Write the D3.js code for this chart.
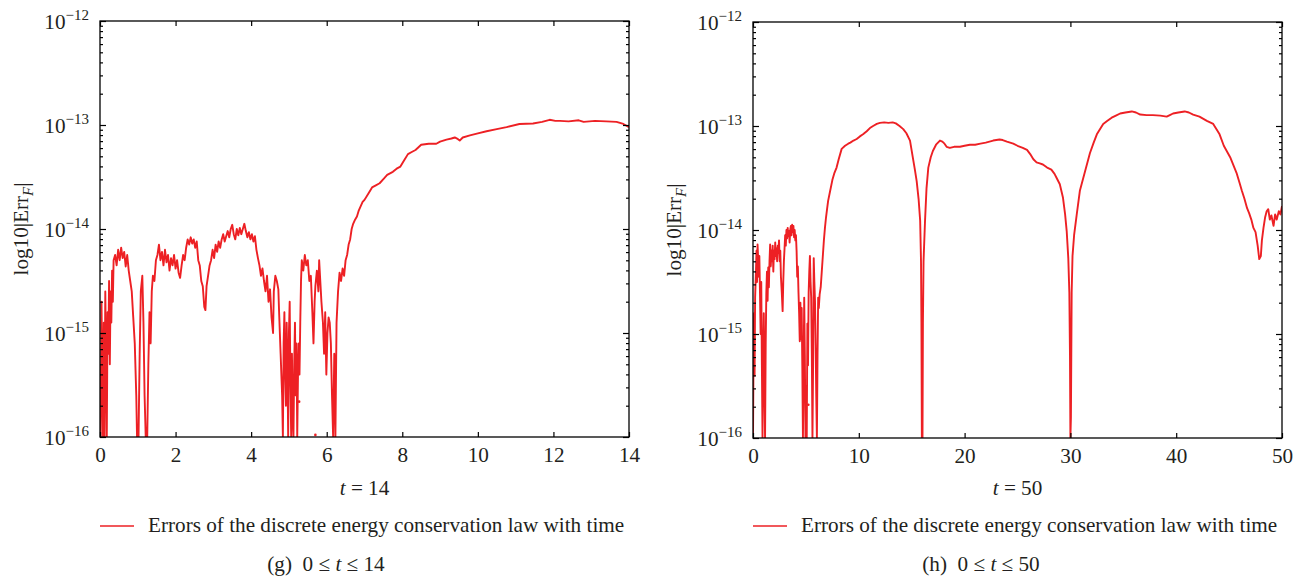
<!DOCTYPE html>
<html><head><meta charset="utf-8">
<script src="https://cdn.jsdelivr.net/npm/d3@7"></script>
<style>
body{margin:0;background:#fff}
svg{display:block}
text{font-family:"Liberation Serif","Times New Roman",serif;fill:#231f20}
</style>
</head><body>
<svg id="c" width="1303" height="580"></svg>
<script>
// ---------- data ----------
const gTicksX = [0, 2, 4, 6, 8, 10, 12, 14];
const hTicksX = [0, 10, 20, 30, 40, 50];
const yTickExps = [-12, -13, -14, -15, -16];
const legendLabel = "Errors of the discrete energy conservation law with time";
const gAxisTitle = "14";
const hAxisTitle = "50";
const gCaption = ["(g)", "14"];
const hCaption = ["(h)", "50"];

// [t, log10|Err_F|]
const gSeries = [
[0.00,-15.3],[0.02,-16.0],[0.04,-14.7],[0.06,-15.4],[0.08,-16.0],[0.10,-14.9],[0.12,-16.0],[0.14,-14.6],
[0.16,-15.2],[0.18,-16.0],[0.20,-14.8],[0.22,-15.2],[0.24,-14.5],[0.26,-15.3],[0.28,-14.6],[0.30,-14.9],
[0.32,-14.4],[0.34,-14.7],[0.36,-14.3],[0.40,-14.25],[0.44,-14.35],[0.48,-14.2],[0.52,-14.3],[0.56,-14.18],
[0.60,-14.28],[0.64,-14.22],[0.68,-14.36],[0.72,-14.25],[0.76,-14.4],[0.80,-14.5],[0.84,-14.6],[0.88,-14.85],
[0.92,-15.1],[0.96,-15.6],[0.98,-16.0],[1.02,-16.0],[1.05,-15.2],[1.08,-14.6],[1.12,-14.45],[1.15,-14.9],
[1.18,-15.6],[1.21,-16.0],[1.25,-16.0],[1.28,-15.3],[1.31,-14.8],[1.34,-15.1],[1.37,-14.6],[1.40,-14.45],
[1.44,-14.5],[1.48,-14.3],[1.52,-14.25],[1.56,-14.15],[1.60,-14.3],[1.64,-14.22],[1.68,-14.35],[1.72,-14.2],
[1.76,-14.32],[1.80,-14.25],[1.84,-14.4],[1.88,-14.28],[1.92,-14.35],[1.96,-14.25],[2.00,-14.38],[2.04,-14.3],
[2.08,-14.42],[2.12,-14.47],[2.16,-14.35],[2.20,-14.25],[2.24,-14.3],[2.28,-14.18],[2.32,-14.1],[2.36,-14.15],
[2.40,-14.08],[2.44,-14.14],[2.48,-14.1],[2.52,-14.18],[2.56,-14.12],[2.60,-14.3],[2.64,-14.35],[2.68,-14.5],
[2.72,-14.55],[2.76,-14.75],[2.79,-14.78],[2.82,-14.55],[2.86,-14.45],[2.90,-14.35],[2.94,-14.3],[2.98,-14.2],
[3.02,-14.28],[3.06,-14.15],[3.10,-14.22],[3.14,-14.12],[3.18,-14.18],[3.22,-14.1],[3.26,-14.05],[3.30,-14.12],
[3.34,-14.07],[3.38,-14.02],[3.42,-14.08],[3.46,-14.0],[3.50,-13.96],[3.54,-14.05],[3.58,-14.1],[3.62,-14.0],
[3.66,-14.06],[3.70,-13.99],[3.74,-14.05],[3.78,-14.0],[3.82,-13.95],[3.86,-14.02],[3.90,-14.08],[3.94,-14.03],
[3.98,-14.1],[4.02,-14.05],[4.06,-14.12],[4.10,-14.07],[4.14,-14.2],[4.18,-14.28],[4.22,-14.35],[4.26,-14.45],
[4.30,-14.38],[4.34,-14.5],[4.38,-14.6],[4.42,-14.45],[4.46,-14.7],[4.50,-14.58],[4.54,-14.85],[4.58,-15.0],
[4.60,-14.6],[4.64,-14.45],[4.68,-14.5],[4.72,-14.58],[4.74,-14.8],[4.78,-15.2],[4.82,-15.6],[4.84,-16.0],
[4.86,-15.1],[4.88,-14.8],[4.90,-15.4],[4.92,-15.7],[4.94,-14.9],[4.96,-15.3],[4.98,-16.0],[5.00,-15.0],
[5.02,-14.7],[5.04,-15.5],[5.06,-16.0],[5.08,-15.2],[5.10,-15.8],[5.12,-16.0],[5.14,-15.3],[5.16,-14.9],
[5.18,-15.6],[5.20,-15.1],[5.22,-16.0],[5.24,-15.4],[5.26,-15.1],[5.28,-15.4],[5.30,-14.9],[5.32,-14.5],
[5.34,-14.3],[5.38,-14.4],[5.42,-14.25],[5.46,-14.35],[5.50,-14.3],[5.54,-14.5],[5.58,-14.45],[5.62,-14.8],
[5.65,-15.1],[5.68,-14.7],[5.70,-14.55],[5.74,-14.4],[5.78,-14.6],[5.80,-14.3],[5.83,-14.5],[5.86,-14.7],
[5.90,-14.9],[5.93,-15.2],[5.96,-14.8],[5.99,-15.4],[6.02,-15.0],[6.05,-14.85],[6.08,-14.9],[6.11,-15.1],
[6.14,-15.6],[6.17,-16.0],[6.20,-15.2],[6.23,-16.0],[6.26,-14.9],[6.30,-14.6],[6.34,-14.42],[6.38,-14.5],
[6.42,-14.38],[6.46,-14.45],[6.50,-14.3],[6.54,-14.25],[6.58,-14.15],[6.62,-14.1],[6.66,-14.0],[6.70,-13.95],
[6.75,-13.91],[6.80,-13.88],[6.85,-13.82],[6.90,-13.78],[6.95,-13.74],[7.00,-13.72],[7.10,-13.66],[7.20,-13.6],
[7.30,-13.58],[7.40,-13.56],[7.50,-13.52],[7.60,-13.48],[7.75,-13.45],[7.85,-13.42],[7.95,-13.40],[8.05,-13.34],
[8.15,-13.28],[8.25,-13.26],[8.35,-13.24],[8.50,-13.19],[8.70,-13.18],[8.90,-13.18],[9.00,-13.16],[9.17,-13.14],
[9.30,-13.13],[9.39,-13.12],[9.45,-13.13],[9.52,-13.15],[9.60,-13.12],[9.79,-13.10],[10.0,-13.08],[10.23,-13.06],
[10.5,-13.04],[10.76,-13.02],[11.1,-12.99],[11.46,-12.985],[11.7,-12.97],[11.9,-12.95],[12.05,-12.96],[12.17,-12.96],
[12.4,-12.965],[12.67,-12.955],[12.8,-12.97],[12.95,-12.965],[13.1,-12.96],[13.4,-12.965],[13.67,-12.97],[13.85,-12.99],
[14.0,-13.02]
];
const gDots = [[5.27,-15.66],[5.70,-15.98]];

const hSeries = [
[0.00,-16.0],[0.05,-15.2],[0.10,-14.8],[0.15,-15.4],[0.20,-14.65],[0.28,-14.4],[0.33,-14.2],[0.38,-14.5],
[0.43,-14.14],[0.50,-14.3],[0.55,-14.45],[0.60,-14.25],[0.66,-14.6],[0.72,-15.0],[0.78,-14.5],[0.84,-15.3],
[0.90,-16.0],[0.96,-15.2],[1.02,-14.8],[1.08,-15.5],[1.14,-16.0],[1.20,-15.1],[1.26,-14.6],[1.32,-14.4],
[1.38,-14.68],[1.44,-14.36],[1.50,-14.55],[1.56,-14.3],[1.62,-14.14],[1.68,-14.35],[1.74,-14.2],[1.80,-14.3],
[1.86,-14.15],[1.92,-14.4],[1.98,-14.2],[2.04,-14.28],[2.10,-14.12],[2.16,-14.25],[2.22,-14.18],[2.28,-14.3],
[2.34,-14.15],[2.40,-14.22],[2.46,-14.1],[2.52,-14.3],[2.58,-14.2],[2.64,-14.45],[2.72,-14.6],[2.80,-14.78],
[2.86,-14.5],[2.92,-14.3],[2.98,-14.18],[3.04,-14.05],[3.10,-14.15],[3.16,-14.0],[3.22,-14.08],[3.28,-13.98],
[3.34,-14.06],[3.40,-14.01],[3.46,-14.12],[3.52,-14.0],[3.58,-13.96],[3.64,-14.05],[3.70,-13.95],[3.76,-14.02],
[3.82,-13.96],[3.88,-14.07],[3.94,-14.0],[4.00,-14.1],[4.06,-14.05],[4.12,-14.2],[4.18,-14.45],[4.24,-14.35],
[4.30,-14.6],[4.36,-14.8],[4.42,-15.07],[4.48,-14.7],[4.54,-15.05],[4.60,-14.75],[4.66,-15.3],[4.72,-16.0],
[4.78,-15.4],[4.84,-14.65],[4.90,-15.2],[4.96,-16.0],[5.02,-15.5],[5.08,-16.0],[5.14,-14.9],[5.20,-15.3],
[5.26,-14.6],[5.32,-14.4],[5.38,-14.25],[5.44,-14.5],[5.50,-14.65],[5.56,-15.2],[5.62,-16.0],[5.68,-15.3],
[5.74,-14.27],[5.80,-14.5],[5.86,-14.68],[5.92,-15.1],[5.98,-15.6],[6.04,-16.0],[6.10,-15.2],[6.16,-14.65],
[6.22,-14.75],[6.30,-14.62],[6.40,-14.55],[6.50,-14.4],[6.60,-14.25],[6.70,-14.1],[6.80,-13.98],[6.90,-13.88],
[7.00,-13.8],[7.10,-13.72],[7.28,-13.63],[7.5,-13.52],[7.7,-13.45],[7.9,-13.40],[8.1,-13.32],[8.38,-13.22],
[8.7,-13.19],[9.0,-13.17],[9.2,-13.16],[9.5,-13.14],[9.8,-13.125],[10.1,-13.10],[10.4,-13.08],[10.75,-13.05],
[11.05,-13.02],[11.35,-13.0],[11.7,-12.98],[12.0,-12.97],[12.4,-12.965],[12.8,-12.97],[13.2,-12.965],[13.5,-12.975],
[13.85,-13.0],[14.2,-13.03],[14.5,-13.07],[14.84,-13.14],[15.1,-13.30],[15.3,-13.42],[15.47,-13.53],[15.65,-13.7],
[15.8,-13.91],[15.88,-14.3],[15.92,-14.9],[15.96,-16.0],[16.02,-16.0],[16.06,-14.9],[16.12,-14.3],[16.26,-13.91],
[16.4,-13.6],[16.57,-13.40],[16.8,-13.3],[17.0,-13.24],[17.3,-13.18],[17.67,-13.14],[17.9,-13.15],[18.1,-13.17],
[18.3,-13.2],[18.6,-13.21],[19.0,-13.2],[19.56,-13.2],[20.0,-13.19],[20.5,-13.18],[21.0,-13.18],[21.5,-13.17],
[22.0,-13.16],[22.7,-13.14],[23.3,-13.13],[23.6,-13.135],[24.0,-13.15],[24.6,-13.17],[25.0,-13.19],[25.5,-13.21],
[25.9,-13.23],[26.2,-13.27],[26.5,-13.32],[26.8,-13.35],[27.1,-13.36],[27.4,-13.37],[27.8,-13.40],[28.2,-13.42],
[28.5,-13.46],[28.7,-13.50],[29.0,-13.56],[29.3,-13.69],[29.5,-13.85],[29.65,-14.01],[29.8,-14.27],[29.9,-14.6],
[29.96,-15.2],[30.0,-16.0],[30.05,-15.8],[30.12,-14.6],[30.2,-14.25],[30.35,-14.05],[30.6,-13.85],[30.9,-13.62],
[31.4,-13.43],[31.85,-13.26],[32.2,-13.16],[32.5,-13.08],[33.1,-12.98],[33.5,-12.95],[33.9,-12.92],[34.3,-12.9],
[34.7,-12.88],[35.2,-12.87],[35.8,-12.86],[36.2,-12.87],[36.6,-12.89],[37.2,-12.895],[37.8,-12.895],[38.5,-12.9],
[39.1,-12.91],[39.4,-12.895],[39.7,-12.88],[40.2,-12.87],[40.8,-12.86],[41.2,-12.87],[41.6,-12.89],[42.2,-12.91],
[42.9,-12.95],[43.5,-12.98],[44.1,-13.08],[44.5,-13.19],[45.1,-13.30],[45.7,-13.45],[46.0,-13.55],[46.2,-13.62],
[46.45,-13.7],[46.7,-13.79],[46.9,-13.84],[47.1,-13.9],[47.3,-13.98],[47.5,-14.02],[47.7,-14.15],[47.85,-14.28],
[48.0,-14.25],[48.1,-14.1],[48.25,-13.98],[48.4,-13.88],[48.55,-13.82],[48.7,-13.80],[48.85,-13.9],[49.0,-13.86],
[49.2,-13.96],[49.35,-13.85],[49.5,-13.9],[49.7,-13.82],[49.85,-13.85],[50.0,-13.77]
];
const hDots = [[5.23,-15.68]];

// ---------- drawing ----------
const svg = d3.select("#c");
const RED = "#ed2024";
const INK = "#231f20";
const FS = 21.2;

const panels = [
  {id:"g", x0:100, x1:629, y0:21, y1:437, xmax:14, ticks:gTicksX, data:gSeries, dots:gDots,
   title:gAxisTitle, caption:gCaption, capX:326},
  {id:"h", x0:753, x1:1282, y0:22, y1:438, xmax:50, ticks:hTicksX, data:hSeries, dots:hDots,
   title:hAxisTitle, caption:hCaption, capX:981}
];

panels.forEach(p => {
  const x = d3.scaleLinear().domain([0, p.xmax]).range([p.x0, p.x1]);
  const y = d3.scaleLog().domain([1e-16, 1e-12]).range([p.y1, p.y0]);
  const g = svg.append("g");

  g.append("clipPath").attr("id", "clip-" + p.id)
    .append("rect").attr("x", p.x0).attr("y", p.y0 - 1)
    .attr("width", p.x1 - p.x0).attr("height", p.y1 - p.y0 + 1);

  const line = d3.line().x(d => x(d[0])).y(d => y(Math.pow(10, d[1])));
  g.append("path").datum(p.data)
    .attr("clip-path", `url(#clip-${p.id})`)
    .attr("fill", "none").attr("stroke", RED).attr("stroke-width", 1.9)
    .attr("stroke-linejoin", "round").attr("d", line);

  g.selectAll(".dot").data(p.dots).join("circle")
    .attr("cx", d => x(d[0])).attr("cy", d => y(Math.pow(10, d[1])))
    .attr("r", 1.3).attr("fill", RED);

  const majors = yTickExps.map(e => Math.pow(10, e));
  const minors = [];
  for (let e = -16; e < -12; e++) for (let m = 2; m <= 9; m++) minors.push(m * Math.pow(10, e));

  const style = sel => {
    sel.select(".domain").remove();
    sel.selectAll(".tick line").attr("stroke", "#000").attr("stroke-width", 1.2);
  };

  // bottom
  g.append("g").attr("transform", `translate(0,${p.y1})`)
    .call(d3.axisBottom(x).tickValues(p.ticks).tickSize(-5).tickPadding(10).tickFormat(d3.format("d")))
    .call(style)
    .call(s => s.selectAll("text").attr("font-size", FS).attr("font-family", '"Liberation Serif",serif').attr("fill", INK));
  // top
  g.append("g").attr("transform", `translate(0,${p.y0})`)
    .call(d3.axisTop(x).tickValues(p.ticks).tickSize(-5).tickFormat(""))
    .call(style);
  // left / right majors and minors
  [[d3.axisLeft, p.x0], [d3.axisRight, p.x1]].forEach(([ax, px]) => {
    g.append("g").attr("transform", `translate(${px},0)`)
      .call(ax(y).tickValues(majors).tickSize(-6).tickFormat("")).call(style);
    g.append("g").attr("transform", `translate(${px},0)`)
      .call(ax(y).tickValues(minors).tickSize(-3).tickFormat("")).call(style);
  });

  // frame
  g.append("rect").attr("x", p.x0).attr("y", p.y0)
    .attr("width", p.x1 - p.x0).attr("height", p.y1 - p.y0)
    .attr("fill", "none").attr("stroke", "#000").attr("stroke-width", 1.3);

  // y tick labels 10^e
  yTickExps.forEach(e => {
    const t = g.append("text").attr("x", p.x0 - 11).attr("y", y(Math.pow(10, e)) + 8)
      .attr("text-anchor", "end").attr("font-size", FS);
    t.append("tspan").text("10");
    t.append("tspan").attr("font-size", 15).attr("dy", -9).text("\u2212" + (-e));
  });

  // y axis label
  const yl = g.append("text")
    .attr("transform", `translate(${p.x0 - 72},${(p.y0 + p.y1) / 2}) rotate(-90)`)
    .attr("text-anchor", "middle").attr("font-size", FS);
  yl.append("tspan").text("log10|Err");
  yl.append("tspan").attr("font-style", "italic").attr("font-size", 15).attr("dy", 5).text("F");
  yl.append("tspan").attr("dy", -5).text("|");

  // x axis title
  const xt = g.append("text").attr("x", (p.x0 + p.x1) / 2).attr("y", 495)
    .attr("text-anchor", "middle").attr("font-size", FS);
  xt.append("tspan").attr("font-style", "italic").text("t");
  xt.append("tspan").text(" = " + p.title);

  // legend
  g.append("line").attr("x1", p.x0).attr("x2", p.x0 + 34).attr("y1", 526).attr("y2", 526)
    .attr("stroke", RED).attr("stroke-width", 1.3);
  g.append("text").attr("x", p.x0 + 48).attr("y", 532).attr("font-size", FS).text(legendLabel);

  // caption
  const cp = g.append("text").attr("x", p.capX).attr("y", 571)
    .attr("text-anchor", "middle").attr("font-size", FS);
  cp.append("tspan").text(p.caption[0] + "\u00a0 0 \u2264 ");
  cp.append("tspan").attr("font-style", "italic").text("t");
  cp.append("tspan").text(" \u2264 " + p.caption[1]);
});
</script>
</body></html>
